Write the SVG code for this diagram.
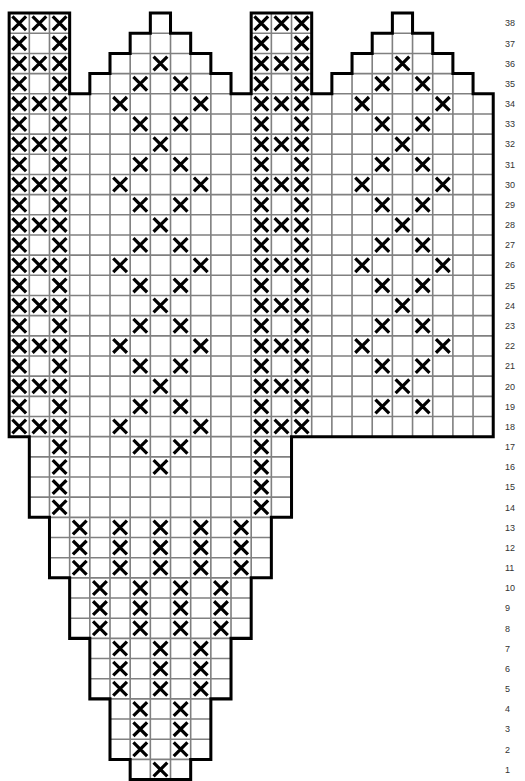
<svg xmlns="http://www.w3.org/2000/svg" xmlns:xlink="http://www.w3.org/1999/xlink" width="525" height="781" viewBox="0 0 525 781">
<style>
.grid{fill:none;stroke:#808080;stroke-width:0.08}
.outline{fill:none;stroke:#000;stroke-width:0.15;stroke-linejoin:miter}
.lbl{font-family:"Liberation Sans",Arial,sans-serif;font-size:9px;fill:#333}
</style>
<defs>
<path id="x" d="M0.16 0.16L0.84 0.84M0.84 0.16L0.16 0.84" stroke="#000" stroke-width="0.16" fill="none"/>
<g id="r3"><use href="#x" x="0"/><use href="#x" x="1"/><use href="#x" x="2"/></g>
<g id="r2"><use href="#x" x="0"/><use href="#x" x="2"/></g>
<g id="sb"><use href="#r3"/><use href="#r2" y="1"/></g>
<g id="dm"><use href="#x" x="0" y="0"/><use href="#x" x="-1" y="1"/><use href="#x" x="1" y="1"/><use href="#x" x="-2" y="2"/><use href="#x" x="2" y="2"/><use href="#x" x="-1" y="3"/><use href="#x" x="1" y="3"/></g>
<g id="b5"><use href="#x" x="0"/><use href="#x" x="2"/><use href="#x" x="4"/><use href="#x" x="6"/><use href="#x" x="8"/></g>
<g id="b4"><use href="#x" x="0"/><use href="#x" x="2"/><use href="#x" x="4"/><use href="#x" x="6"/></g>
<g id="b3"><use href="#x" x="0"/><use href="#x" x="2"/><use href="#x" x="4"/></g>
<g id="b2"><use href="#x" x="0"/><use href="#x" x="2"/></g>
</defs>
<rect width="525" height="781" fill="#fff"/>
<g id="chart" transform="translate(9.15 13.1) scale(20.17)">
<path id="background" d="M0 0H3V4H4V3H5V2H6V1H7V0H8V1H9V2H10V3H11V4H12V0H15V4H16V3H17V2H18V1H19V0H20V1H21V2H22V3H23V4H24V21H14V25H13V28H12V31H11V34H10V37H9V38H6V37H5V34H4V31H3V28H2V25H1V21H0Z" fill="#fff"/>
<path id="grid" class="grid" d="M0 1H3M6 1H9M12 1H15M18 1H21M0 2H3M5 2H10M12 2H15M17 2H22M0 3H3M4 3H11M12 3H15M16 3H23
M0 4H24M0 5H24M0 6H24M0 7H24M0 8H24M0 9H24M0 10H24M0 11H24M0 12H24M0 13H24M0 14H24M0 15H24M0 16H24M0 17H24M0 18H24M0 19H24M0 20H24
M1 21H14M1 22H14M1 23H14M1 24H14M2 25H13M2 26H13M2 27H13M3 28H12M3 29H12M3 30H12M4 31H11M4 32H11M4 33H11M5 34H10M5 35H10M5 36H10M6 37H9
M1 0V21M2 0V25M3 0V28M4 3V31M5 2V34M6 1V37M7 0V38M8 0V38M9 1V37M10 2V34M11 3V31M12 0V28M13 0V25M14 0V21
M15 0V21M16 3V21M17 2V21M18 1V21M19 0V21M20 0V21M21 1V21M22 2V21M23 3V21"/>
<g id="stitches">
<g id="left-strip">
<use href="#sb" x="0" y="0"/><use href="#sb" x="0" y="2"/><use href="#sb" x="0" y="4"/><use href="#sb" x="0" y="6"/><use href="#sb" x="0" y="8"/><use href="#sb" x="0" y="10"/><use href="#sb" x="0" y="12"/><use href="#sb" x="0" y="14"/><use href="#sb" x="0" y="16"/><use href="#sb" x="0" y="18"/><use href="#r3" x="0" y="20"/>
</g>
<g id="middle-strip">
<use href="#sb" x="12" y="0"/><use href="#sb" x="12" y="2"/><use href="#sb" x="12" y="4"/><use href="#sb" x="12" y="6"/><use href="#sb" x="12" y="8"/><use href="#sb" x="12" y="10"/><use href="#sb" x="12" y="12"/><use href="#sb" x="12" y="14"/><use href="#sb" x="12" y="16"/><use href="#sb" x="12" y="18"/><use href="#r3" x="12" y="20"/>
</g>
<g id="cuff-edges">
<use href="#x" x="2" y="21"/><use href="#x" x="2" y="22"/><use href="#x" x="2" y="23"/><use href="#x" x="2" y="24"/>
<use href="#x" x="12" y="21"/><use href="#x" x="12" y="22"/><use href="#x" x="12" y="23"/><use href="#x" x="12" y="24"/>
</g>
<g id="left-diamonds">
<use href="#dm" x="7" y="2"/><use href="#dm" x="7" y="6"/><use href="#dm" x="7" y="10"/><use href="#dm" x="7" y="14"/><use href="#dm" x="7" y="18"/><use href="#x" x="7" y="22"/>
</g>
<g id="right-diamonds">
<use href="#dm" x="19" y="2"/><use href="#dm" x="19" y="6"/><use href="#dm" x="19" y="10"/><use href="#dm" x="19" y="14"/><use href="#x" x="19" y="18"/><use href="#x" x="18" y="19"/><use href="#x" x="20" y="19"/>
</g>
<g id="point">
<use href="#b5" x="3" y="25"/><use href="#b5" x="3" y="26"/><use href="#b5" x="3" y="27"/>
<use href="#b4" x="4" y="28"/><use href="#b4" x="4" y="29"/><use href="#b4" x="4" y="30"/>
<use href="#b3" x="5" y="31"/><use href="#b3" x="5" y="32"/><use href="#b3" x="5" y="33"/>
<use href="#b2" x="6" y="34"/><use href="#b2" x="6" y="35"/><use href="#b2" x="6" y="36"/>
<use href="#x" x="7" y="37"/>
</g>
</g>
<path id="outline" class="outline" d="M0 0H3V4H4V3H5V2H6V1H7V0H8V1H9V2H10V3H11V4H12V0H15V4H16V3H17V2H18V1H19V0H20V1H21V2H22V3H23V4H24V21H14V25H13V28H12V31H11V34H10V37H9V38H6V37H5V34H4V31H3V28H2V25H1V21H0Z"/>
</g>
<g id="row-numbers" class="lbl">
<text x="505" y="26.4">38</text>
<text x="505" y="46.6">37</text>
<text x="505" y="66.7">36</text>
<text x="505" y="86.9">35</text>
<text x="505" y="107.1">34</text>
<text x="505" y="127.3">33</text>
<text x="505" y="147.4">32</text>
<text x="505" y="167.6">31</text>
<text x="505" y="187.8">30</text>
<text x="505" y="207.9">29</text>
<text x="505" y="228.1">28</text>
<text x="505" y="248.3">27</text>
<text x="505" y="268.4">26</text>
<text x="505" y="288.6">25</text>
<text x="505" y="308.8">24</text>
<text x="505" y="328.9">23</text>
<text x="505" y="349.1">22</text>
<text x="505" y="369.3">21</text>
<text x="505" y="389.5">20</text>
<text x="505" y="409.6">19</text>
<text x="505" y="429.8">18</text>
<text x="505" y="450.0">17</text>
<text x="505" y="470.1">16</text>
<text x="505" y="490.3">15</text>
<text x="505" y="510.5">14</text>
<text x="505" y="530.7">13</text>
<text x="505" y="550.8">12</text>
<text x="505" y="571.0">11</text>
<text x="505" y="591.2">10</text>
<text x="505" y="611.3">9</text>
<text x="505" y="631.5">8</text>
<text x="505" y="651.7">7</text>
<text x="505" y="671.8">6</text>
<text x="505" y="692.0">5</text>
<text x="505" y="712.2">4</text>
<text x="505" y="732.3">3</text>
<text x="505" y="752.5">2</text>
<text x="505" y="772.7">1</text>
</g>
</svg>
